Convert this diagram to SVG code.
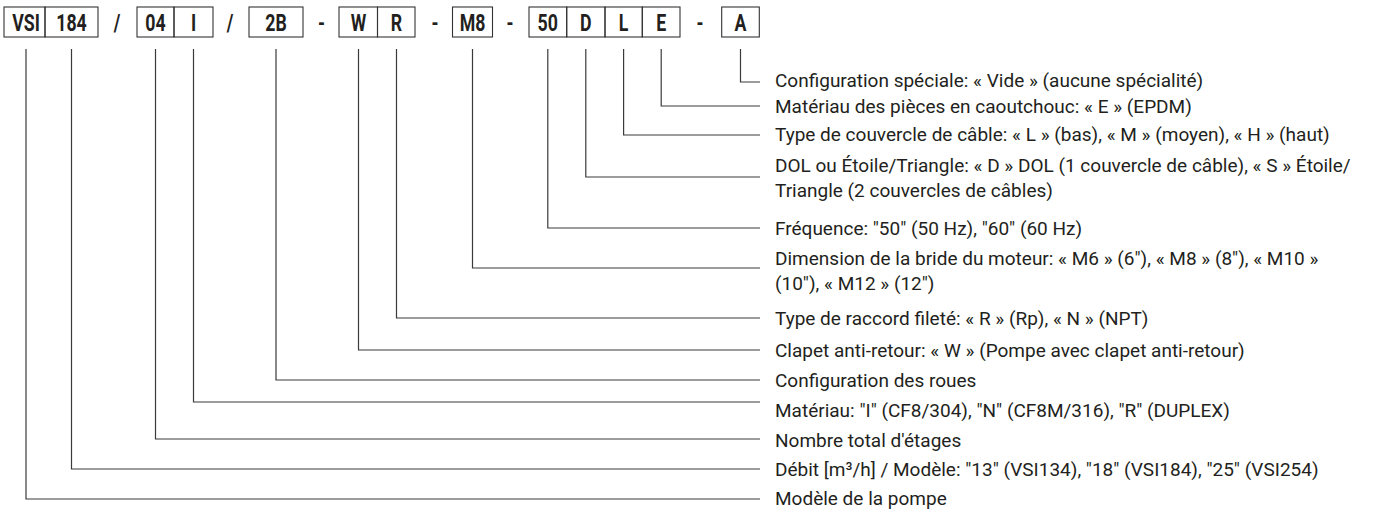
<svg xmlns="http://www.w3.org/2000/svg" width="1377" height="512" viewBox="0 0 1377 512">
<style>
.bg{fill:#ffffff}
.box{fill:none;stroke:#333333;stroke-width:1.1}
.code{font-family:Roboto,"Liberation Sans",sans-serif;font-weight:bold;font-size:24px;fill:#231f20;text-anchor:middle}
.sep{font-family:Roboto,"Liberation Sans",sans-serif;font-weight:bold;font-size:24px;fill:#231f20;text-anchor:middle}
.lbl{font-family:Roboto,"Liberation Sans",sans-serif;font-size:19px;fill:#231f20}
.conn{fill:none;stroke:#3a3a3a;stroke-width:1.2}
</style>
<rect class="bg" x="0" y="0" width="1377" height="512"/>

<g id="code">
  <g id="box-VSI"><rect class="box" x="4" y="7" width="41" height="30"/><text class="code" transform="translate(26,31) scale(0.74,1)">VSI</text></g>
  <g id="box-184"><rect class="box" x="45" y="7" width="53" height="30"/><text class="code" transform="translate(71.5,31) scale(0.74,1)">184</text></g>
  <g id="sep-1"><text class="sep" transform="translate(117,31) scale(0.74,1)">/</text></g>
  <g id="box-04"><rect class="box" x="137" y="7" width="37" height="30"/><text class="code" transform="translate(155.5,31) scale(0.74,1)">04</text></g>
  <g id="box-I"><rect class="box" x="174" y="7" width="39" height="30"/><text class="code" transform="translate(193.5,31) scale(0.74,1)">I</text></g>
  <g id="sep-2"><text class="sep" transform="translate(230,31) scale(0.74,1)">/</text></g>
  <g id="box-2B"><rect class="box" x="249" y="7" width="54" height="30"/><text class="code" transform="translate(276,31) scale(0.74,1)">2B</text></g>
  <g id="sep-3"><text class="sep" transform="translate(321.5,31) scale(0.74,1)">-</text></g>
  <g id="box-W"><rect class="box" x="339" y="7" width="38.5" height="30"/><text class="code" transform="translate(358.5,31) scale(0.74,1)">W</text></g>
  <g id="box-R"><rect class="box" x="377.5" y="7" width="37.5" height="30"/><text class="code" transform="translate(396.5,31) scale(0.74,1)">R</text></g>
  <g id="sep-4"><text class="sep" transform="translate(435,31) scale(0.74,1)">-</text></g>
  <g id="box-M8"><rect class="box" x="452.5" y="7" width="40" height="30"/><text class="code" transform="translate(472.5,31) scale(0.74,1)">M8</text></g>
  <g id="sep-5"><text class="sep" transform="translate(510,31) scale(0.74,1)">-</text></g>
  <g id="box-50"><rect class="box" x="529" y="7" width="37.7" height="30"/><text class="code" transform="translate(547.8,31) scale(0.74,1)">50</text></g>
  <g id="box-D"><rect class="box" x="566.7" y="7" width="38.3" height="30"/><text class="code" transform="translate(585.8,31) scale(0.74,1)">D</text></g>
  <g id="box-L"><rect class="box" x="605" y="7" width="37.3" height="30"/><text class="code" transform="translate(623.6,31) scale(0.74,1)">L</text></g>
  <g id="box-E"><rect class="box" x="642.3" y="7" width="37.7" height="30"/><text class="code" transform="translate(661.2,31) scale(0.74,1)">E</text></g>
  <g id="sep-6"><text class="sep" transform="translate(700,31) scale(0.74,1)">-</text></g>
  <g id="box-A"><rect class="box" x="721.7" y="7" width="37.6" height="30"/><text class="code" transform="translate(740.5,31) scale(0.74,1)">A</text></g>
</g>

<g id="connectors">
  <path class="conn" d="M740.5,49 V82 H760"/>
  <path class="conn" d="M661.2,49 V106 H760"/>
  <path class="conn" d="M623.6,49 V135 H760"/>
  <path class="conn" d="M585.8,49 V177 H760"/>
  <path class="conn" d="M547.8,49 V228 H760"/>
  <path class="conn" d="M472.5,49 V268 H760"/>
  <path class="conn" d="M396.5,49 V318 H760"/>
  <path class="conn" d="M358.5,49 V350 H760"/>
  <path class="conn" d="M276,49 V380 H760"/>
  <path class="conn" d="M193.5,49 V402 H760"/>
  <path class="conn" d="M155.5,49 V439 H760"/>
  <path class="conn" d="M71.5,49 V469 H760"/>
  <path class="conn" d="M26,49 V499 H760"/>
</g>

<g id="labels">
  <g id="label-A"><text class="lbl" x="775" y="87">Configuration spéciale: « Vide » (aucune spécialité)</text></g>
  <g id="label-E"><text class="lbl" x="775" y="113">Matériau des pièces en caoutchouc: « E » (EPDM)</text></g>
  <g id="label-L"><text class="lbl" x="775" y="141">Type de couvercle de câble: « L » (bas), « M » (moyen), « H » (haut)</text></g>
  <g id="label-D"><text class="lbl" x="775" y="172">DOL ou Étoile/Triangle: « D » DOL (1 couvercle de câble), « S » Étoile/</text><text class="lbl" x="775" y="197">Triangle (2 couvercles de câbles)</text></g>
  <g id="label-50"><text class="lbl" x="775" y="235">Fréquence: "50" (50 Hz), "60" (60 Hz)</text></g>
  <g id="label-M8"><text class="lbl" x="775" y="265">Dimension de la bride du moteur: « M6 » (6"), « M8 » (8"), « M10 »</text><text class="lbl" x="775" y="290">(10"), « M12 » (12")</text></g>
  <g id="label-R"><text class="lbl" x="775" y="325">Type de raccord fileté: « R » (Rp), « N » (NPT)</text></g>
  <g id="label-W"><text class="lbl" x="775" y="357">Clapet anti-retour: « W » (Pompe avec clapet anti-retour)</text></g>
  <g id="label-2B"><text class="lbl" x="775" y="387">Configuration des roues</text></g>
  <g id="label-I"><text class="lbl" x="775" y="417">Matériau: "I" (CF8/304), "N" (CF8M/316), "R" (DUPLEX)</text></g>
  <g id="label-04"><text class="lbl" x="775" y="447">Nombre total d'étages</text></g>
  <g id="label-184"><text class="lbl" x="775" y="476">Débit [m³/h] / Modèle: "13" (VSI134), "18" (VSI184), "25" (VSI254)</text></g>
  <g id="label-VSI"><text class="lbl" x="775" y="505">Modèle de la pompe</text></g>
</g>
</svg>
